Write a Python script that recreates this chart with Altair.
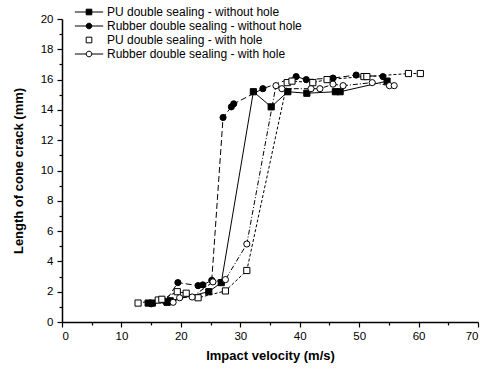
import altair as alt
import pandas as pd

# ---- data ----
series_names = [
    "PU double sealing - without hole",
    "Rubber double sealing - without hole",
    "PU double sealing - with hole",
    "Rubber double sealing - with hole",
]

pu_wo_v = [14.5, 15.2, 17.7, 18.2, 24.7, 26.8, 32.2, 35.2, 38.0, 41.2, 46.0, 46.8, 54.7]
pu_wo_l = [1.25, 1.25, 1.3, 1.4, 2.0, 2.6, 15.2, 14.2, 15.2, 15.1, 15.2, 15.2, 15.9]

rub_wo_v = [15.0, 17.4, 19.5, 22.9, 23.7, 25.2, 27.1, 28.5, 28.9, 33.8, 39.4, 41.1, 45.6, 49.5, 54.0]
rub_wo_l = [1.2, 1.35, 2.6, 2.4, 2.45, 2.75, 13.5, 14.2, 14.4, 15.4, 16.2, 16.0, 16.1, 16.3, 16.2]

pu_w_v = [12.8, 16.2, 16.8, 19.4, 20.9, 22.9, 27.5, 31.1, 37.9, 38.7, 42.2, 44.6, 50.8, 51.3, 58.3, 60.3]
pu_w_l = [1.25, 1.45, 1.5, 2.0, 1.9, 1.6, 2.05, 3.4, 15.8, 15.9, 15.8, 16.0, 16.2, 16.2, 16.4, 16.4]

rub_w_v = [18.7, 19.8, 21.9, 25.4, 27.5, 31.1, 36.0, 37.0, 41.9, 43.4, 45.6, 47.3, 52.2, 55.1, 55.9]
rub_w_l = [1.3, 1.6, 1.65, 2.65, 2.8, 5.15, 15.6, 15.4, 15.4, 15.4, 15.7, 15.6, 15.8, 15.6, 15.6]

x_ticks = list(range(0, 71, 5))
y_ticks = list(range(0, 21, 1))

FONT = "Liberation Sans"

series_data = [
    (pu_wo_v, pu_wo_l, "square", "black", []),
    (rub_wo_v, rub_wo_l, "circle", "black", [6, 3]),
    (pu_w_v, pu_w_l, "square", "white", [3, 2]),
    (rub_w_v, rub_w_l, "circle", "white", [5, 2, 1, 2]),
]

x_enc = alt.X(
    "v:Q",
    scale=alt.Scale(domain=[0, 70], nice=False, zero=False),
    axis=alt.Axis(
        values=x_ticks,
        title="Impact velocity (m/s)",
        labelExpr="datum.value % 10 === 0 ? datum.label : ''",
        tickSize={"condition": {"test": "datum.value % 10 === 0", "value": 5}, "value": 3},
        titlePadding=8,
        labelPadding=3,
    ),
)
y_enc = alt.Y(
    "l:Q",
    scale=alt.Scale(domain=[0, 20], nice=False, zero=False),
    axis=alt.Axis(
        values=y_ticks,
        title="Length of cone crack (mm)",
        labelExpr="datum.value % 2 === 0 ? datum.label : ''",
        tickSize={"condition": {"test": "datum.value % 2 === 0", "value": 5}, "value": 3},
        titlePadding=15,
        labelPadding=4,
    ),
)

layers = []
for (vs, ls, shape, fill, dash), name in zip(series_data, series_names):
    df = pd.DataFrame({"v": vs, "l": ls, "series": name})
    line_kw = dict(color="black", strokeWidth=1)
    if dash:
        line_kw["strokeDash"] = dash
    layers.append(alt.Chart(df).mark_line(**line_kw).encode(x=x_enc, y=y_enc))
for (vs, ls, shape, fill, dash), name in zip(series_data, series_names):
    df = pd.DataFrame({"v": vs, "l": ls, "series": name})
    layers.append(
        alt.Chart(df)
        .mark_point(shape=shape, filled=True, fill=fill, stroke="black",
                    strokeWidth=1, size=38, opacity=1)
        .encode(x=x_enc, y=y_enc)
    )

# legend layer (invisible marks, legend only)
legend_paths = [
    "M-5,0H5M-1,-1H1V1H-1Z",
    "M-5,0H5M1,0A1,1,0,1,1,-1,0A1,1,0,1,1,1,0Z",
    "M-1,-1H1V1H-1Z",
    "M-5,0H-1M1,0H5M1,0A1,1,0,1,1,-1,0A1,1,0,1,1,1,0Z",
]
legend_fills = ["black", "black", "white", "white"]
legend_strokes = ["black", "black", "black", "black"]
leg_df = pd.DataFrame({
    "v": [s[0][0] for s in series_data],
    "l": [s[1][0] for s in series_data],
    "series": series_names,
})

def make_legend():
    return alt.Legend(
        title=None,
        orient="none",
        legendX=21,
        legendY=-13,
        symbolSize=32,
        symbolStrokeColor="black",
        symbolStrokeWidth=1,
        symbolOpacity=1,
        labelOffset=12,
        labelFont=FONT,
        labelFontSize=12,
        labelColor="black",
        labelLimit=400,
        rowPadding=2,
        padding=0,
    )

legend_layer = alt.Chart(leg_df).mark_point(filled=True, opacity=0, strokeWidth=1).encode(
    x=x_enc,
    y=y_enc,
    shape=alt.Shape("series:N", scale=alt.Scale(domain=series_names, range=legend_paths),
                    legend=make_legend()),
    fill=alt.Fill("series:N", scale=alt.Scale(domain=series_names, range=legend_fills),
                  legend=make_legend()),
    stroke=alt.Stroke("series:N", scale=alt.Scale(domain=series_names, range=legend_strokes),
                      legend=make_legend()),
)

chart = (
    alt.layer(*layers, legend_layer)
    .properties(
        width=416,
        height=303,
        autosize=alt.AutoSizeParams(type="none"),
        padding={"left": 62, "top": 19, "right": 9, "bottom": 50},
        background="white",
    )
    .configure_view(stroke=None)
    .configure_axis(
        grid=False,
        domainColor="black",
        domainWidth=1.5,
        tickColor="black",
        tickWidth=1.2,
        labelFont=FONT,
        labelFontSize=11.5,
        labelColor="black",
        titleFont=FONT,
        titleFontSize=13,
        titleFontWeight="bold",
        titleColor="black",
    )
)

chart.save("out.html", embed_options={"renderer": "svg", "actions": False})
